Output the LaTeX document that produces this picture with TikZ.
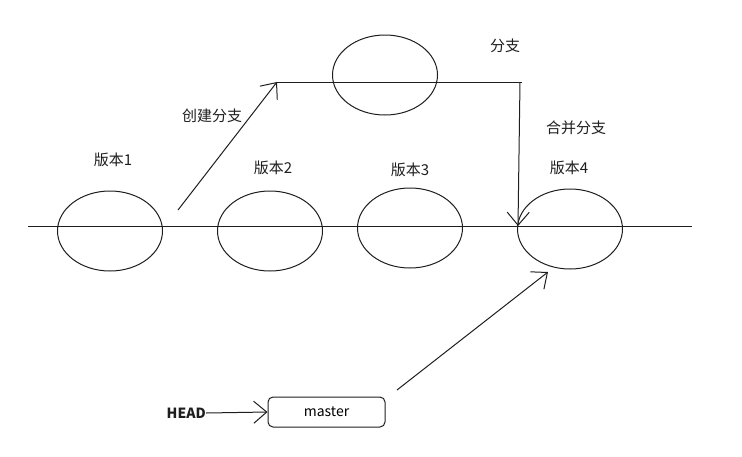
\documentclass[tikz,border=0pt]{standalone}
\usepackage{fontspec}
\setmainfont{Noto Sans CJK SC}
\usetikzlibrary{arrows.meta,shapes.geometric}
\definecolor{ink}{HTML}{1E1E1E}
\tikzset{
  ver/.style={draw=ink, line width=1pt, ellipse, minimum width=105pt, minimum height=80pt, inner sep=0pt},
  lbl/.style={font=\fontsize{15pt}{17pt}\selectfont, text=ink, inner sep=0pt},
  ln/.style={draw=ink, line width=1pt},
  arr/.style={ln, -{Straight Barb[length=13pt,width=22pt,line width=1pt]}},
  boxst/.style={draw=ink, line width=1pt, rounded corners=5pt, minimum width=117pt, minimum height=30pt, font=\fontsize{14pt}{16pt}\selectfont}
}
\begin{document}
\begin{tikzpicture}[x=1pt,y=-1pt]
\useasboundingbox (0,0) rectangle (742,456);
% main line
\coordinate (L0) at (28,226);
\coordinate (L1) at (692,226);
\draw[ln] (L0) -- (L1);
% versions
\node[ver] (v1) at (110,231) {};
\node[ver] (v2) at (270,231) {};
\node[ver] (v3) at (410,228) {};
\node[ver] (v4) at (570,229) {};
\node[ver] (vb) at (385,75) {};
% labels
\node[lbl] (t1) at (113,160) {版本1};
\node[lbl] (t2) at (273,168) {版本2};
\node[lbl] (t3) at (410,170) {版本3};
\node[lbl] (t4) at (569,168) {版本4};
\node[lbl] (tb) at (505,46) {分支};
\node[lbl] (tc) at (212,116) {创建分支};
\node[lbl] (tm) at (576,128) {合并分支};
% branch
\coordinate (c0) at (178,210);
\coordinate (c1) at (277,82);
\coordinate (b1) at (522,82);
\coordinate (b2) at (520,82);
\coordinate (b3) at (518,226);
\draw[arr] (c0) -- (c1);
\draw[ln] (c1) -- (b1);
\draw[arr] (b2) -- (b3);
% master
\node[boxst] (m) at (326.5,412) {master};
\node[lbl, anchor=east, font=\fontsize{14pt}{16pt}\selectfont\bfseries] (h) at (206,413) {HEAD};
\draw[arr] (h.east) -- (m.west);
\coordinate (a0) at (397,390);
\coordinate (a1) at (548,272);
\draw[arr] (a0) -- (a1);
\end{tikzpicture}
\end{document}
